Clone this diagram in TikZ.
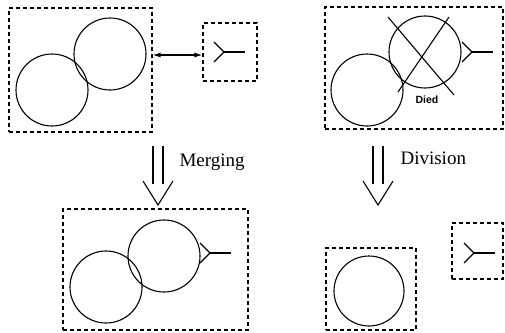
\documentclass[tikz,border=0pt]{standalone}
\usepackage{fontspec}
\setmainfont{Liberation Serif}
\newfontfamily\diedfont{Liberation Sans}
\usetikzlibrary{arrows.meta,calc}
\begin{document}
\begin{tikzpicture}[x=1pt,y=-1pt,line width=1.1pt,
  dbox/.style={draw,dash pattern=on 4pt off 3pt,line width=1.3pt,inner sep=0pt},
  cell/.style={draw,circle,minimum size=72pt,inner sep=0pt,line width=1.1pt},
  receptor/.pic={\draw (-10,-10) -- (0,0) -- (-10,10); \draw (0,0) -- (21,0);},
  lbl/.style={font=\fontsize{19}{22}\selectfont,anchor=west,inner sep=0pt}]
\useasboundingbox (0,0) rectangle (505,332);
% top-left box
\node[dbox,minimum width=143pt,minimum height=124pt] (A) at (80.5,70) {};
\node[cell] (a1) at (52,90) {};
\node[cell] (a2) at (110,54) {};
% small receptor box
\node[dbox,minimum width=54pt,minimum height=58pt] (B) at (230,52) {};
\pic at (224,52) {receptor};
\coordinate (ay) at (0,55);
\draw[{Latex[length=8pt,width=5pt]}-{Latex[length=8pt,width=5pt]}] (A.east |- ay) -- (B.west |- ay);
% top-right box
\node[dbox,minimum width=178pt,minimum height=122pt] (C) at (414,68) {};
\node[cell] (c1) at (367,90) {};
\node[cell] (c2) at (425,52) {};
\pic at (472,52) {receptor};
\draw (388,17) -- (454,95);
\draw (449,17) -- (398,92);
\node[font=\diedfont\bfseries\fontsize{10.5}{12}\selectfont,inner sep=0pt] (died) at (427,100) {Died};
% merging arrow
\coordinate (mt) at (158,146);
\coordinate (mb) at (158,205);
\draw ($(mt)+(-5,0)$) -- ++(0,38);
\draw ($(mt)+(5,0)$) -- ++(0,38);
\draw ($(mb)+(-15,-24)$) -- (mb) -- ($(mb)+(15,-24)$);
\node[lbl] (merg) at (179,162) {Merging};
% division arrow
\coordinate (dt) at (378,146);
\coordinate (db) at (378,205);
\draw ($(dt)+(-5,0)$) -- ++(0,38);
\draw ($(dt)+(5,0)$) -- ++(0,38);
\draw ($(db)+(-15,-24)$) -- (db) -- ($(db)+(15,-24)$);
\node[lbl] (divi) at (400,158) {Division};
% merged box
\node[dbox,minimum width=185pt,minimum height=121pt] (D) at (155.5,269.5) {};
\node[cell] (d1) at (106,287) {};
\node[cell] (d2) at (164,256) {};
\pic at (210,253) {receptor};
% divided cell box
\node[dbox,minimum width=90pt,minimum height=82pt] (E) at (371,289) {};
\node[cell,minimum size=70pt] (e1) at (369,291) {};
% free receptor box
\node[dbox,minimum width=51pt,minimum height=56pt] (F) at (477.5,251) {};
\pic at (474,253) {receptor};
\end{tikzpicture}
\end{document}
